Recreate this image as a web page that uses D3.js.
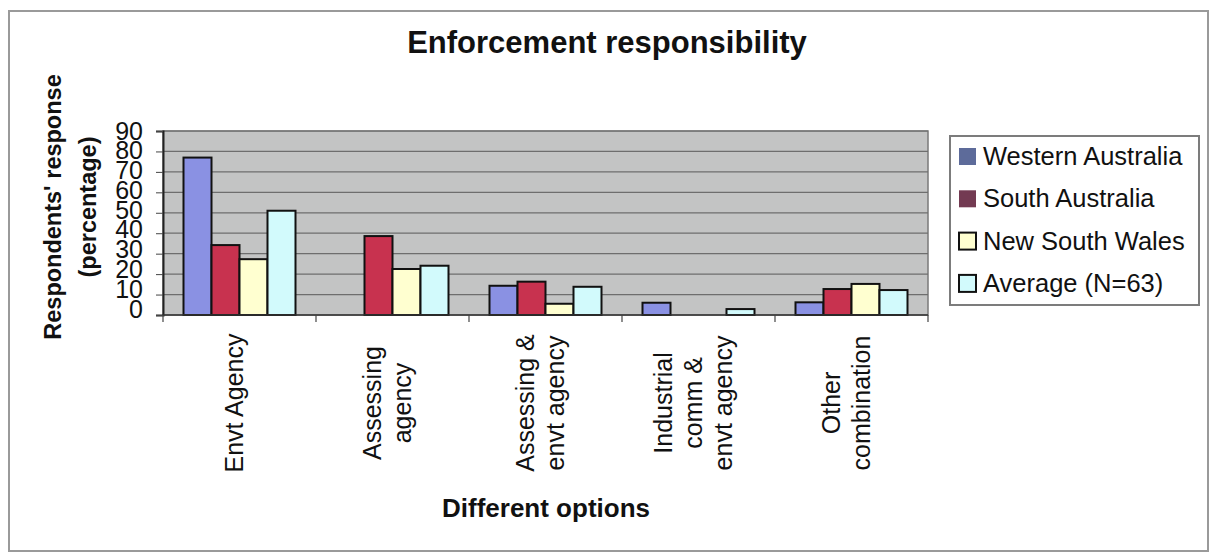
<!DOCTYPE html>
<html>
<head>
<meta charset="utf-8">
<script src="https://cdn.jsdelivr.net/npm/d3@7"></script>
<style>
  html, body { margin: 0; padding: 0; background: #ffffff; }
  svg { display: block; font-family: "Liberation Sans", Arial, sans-serif; }
</style>
</head>
<body>
<svg id="chart" width="1213" height="553"></svg>
<script>
// Options asked about, one group of bars per option
const categories = ["Envt Agency", "Assessing agency", "Assessing & envt agency", "Industrial comm & envt agency", "Other combination"];
// Line breaks used when writing the category names under the axis
const categoryLines = [
  ["Envt Agency"],
  ["Assessing", "agency"],
  ["Assessing &", "envt agency"],
  ["Industrial", "comm &", "envt agency"],
  ["Other", "combination"]
];
const seriesNames = ["Western Australia", "South Australia", "New South Wales", "Average (N=63)"];
// Percent of respondents per option
const westernAustralia = [77, 0, 14.3, 6, 6.2];
const southAustralia   = [34.2, 38.6, 16.3, 0, 12.7];
const newSouthWales    = [27.3, 22.5, 5.5, 0, 15.2];
const averageN63       = [51, 24.1, 13.8, 2.9, 12.2];
const yTicks = [0, 10, 20, 30, 40, 50, 60, 70, 80, 90];

const seriesValues = [westernAustralia, southAustralia, newSouthWales, averageN63];
const barFill = ["#8a91e3", "#c8324f", "#ffffd0", "#d2fafc"];
const legendFill = ["#5d6b9a", "#733a52", "#ffffd0", "#d2fafc"];
const legendStroke = ["none", "none", "#111", "#111"];

const svg = d3.select("#chart");

// Outer chart frame
svg.append("rect")
  .attr("x", 9).attr("y", 11).attr("width", 1199).attr("height", 540)
  .attr("fill", "#fff").attr("stroke", "#9a9a9a").attr("stroke-width", 2);

// Plot area bounds
const plot = { left: 163, right: 928, top: 131, bottom: 315 };

const y = d3.scaleLinear().domain([0, 90]).range([plot.bottom, plot.top]);
const x0 = d3.scaleBand().domain(categories).range([plot.left, plot.right]).padding(0);
const gap = x0.bandwidth() * 0.134;
const x1 = d3.scaleBand().domain(seriesNames).range([gap, x0.bandwidth() - gap]).padding(0);

// Grey plot background
svg.append("rect")
  .attr("x", plot.left).attr("y", plot.top)
  .attr("width", plot.right - plot.left).attr("height", plot.bottom - plot.top)
  .attr("fill", "#c3c4c4").attr("stroke", "#7a7a7a").attr("stroke-width", 1.5);

// Horizontal gridlines
svg.append("g")
  .selectAll("line")
  .data(yTicks.filter(t => t > 0))
  .join("line")
  .attr("x1", plot.left).attr("x2", plot.right)
  .attr("y1", d => y(d)).attr("y2", d => y(d))
  .attr("stroke", "#6e6e6e").attr("stroke-width", 1.2);

// Bars
const rows = categories.map((c, i) => ({ cat: c, vals: seriesValues.map((s, k) => ({ k, v: s[i] })) }));
svg.append("g")
  .selectAll("g")
  .data(rows)
  .join("g")
  .attr("transform", d => `translate(${x0(d.cat)},0)`)
  .selectAll("rect")
  .data(d => d.vals.filter(e => e.v > 0))
  .join("rect")
  .attr("x", d => x1(seriesNames[d.k]))
  .attr("width", x1.bandwidth())
  .attr("y", d => y(d.v))
  .attr("height", d => y(0) - y(d.v))
  .attr("fill", d => barFill[d.k])
  .attr("stroke", "#111").attr("stroke-width", 2);

// Y axis: line and tick marks
const yAxis = svg.append("g")
  .attr("transform", `translate(${plot.left},0)`)
  .call(d3.axisLeft(y).tickValues(yTicks).tickSize(7).tickFormat(""));
yAxis.select(".domain").attr("stroke", "#222").attr("stroke-width", 2);
yAxis.selectAll(".tick line").attr("stroke", "#444");

// Y tick labels, packed tightly as in the printed layout
const yLabel = y.copy().range([308, 130]);
const yLab = svg.append("g")
  .attr("transform", `translate(143,0)`)
  .call(d3.axisLeft(yLabel).tickValues(yTicks).tickSize(0).tickPadding(0));
yLab.select(".domain").remove();
yLab.selectAll("text")
  .attr("font-family", "Liberation Sans, Arial, sans-serif")
  .attr("font-size", 25).attr("fill", "#111").attr("dy", "0.36em");

// X axis: line and boundary ticks
const xBounds = categories.map(c => x0(c)).concat([plot.right]);
svg.append("line")
  .attr("x1", plot.left).attr("x2", plot.right)
  .attr("y1", plot.bottom).attr("y2", plot.bottom)
  .attr("stroke", "#333").attr("stroke-width", 1.5);
svg.append("g").selectAll("line")
  .data(xBounds)
  .join("line")
  .attr("x1", d => d).attr("x2", d => d)
  .attr("y1", plot.bottom).attr("y2", plot.bottom + 7)
  .attr("stroke", "#444").attr("stroke-width", 1.2);

// Rotated category labels, centred under each group
const lineGap = 30;
svg.append("g").selectAll("text")
  .data(categories)
  .join("text")
  .attr("transform", d => `translate(${x0(d) + x0.bandwidth() / 2 - 6},403) rotate(-90)`)
  .attr("text-anchor", "middle")
  .attr("font-size", 25).attr("fill", "#111")
  .each(function (d, i) {
    const lines = categoryLines[i];
    const n = lines.length;
    d3.select(this).selectAll("tspan")
      .data(lines)
      .join("tspan")
      .attr("x", 0)
      .attr("y", (l, j) => (j - (n - 1) / 2) * lineGap)
      .attr("dominant-baseline", "central")
      .text(l => l);
  });

// Title
svg.append("text")
  .attr("x", 607).attr("y", 53)
  .attr("text-anchor", "middle")
  .attr("font-size", 31).attr("font-weight", "bold").attr("fill", "#111")
  .text("Enforcement responsibility");

// Axis titles
svg.append("text")
  .attr("x", 546).attr("y", 517)
  .attr("text-anchor", "middle")
  .attr("font-size", 26).attr("font-weight", "bold").attr("fill", "#111")
  .text("Different options");

const yTitle = svg.append("text")
  .attr("transform", "translate(0,207) rotate(-90)")
  .attr("text-anchor", "middle")
  .attr("font-size", 23.5).attr("font-weight", "bold").attr("fill", "#111");
yTitle.append("tspan").attr("x", 0).attr("y", 53).attr("dominant-baseline", "central").text("Respondents' response");
yTitle.append("tspan").attr("x", 0).attr("y", 88).attr("dominant-baseline", "central").text("(percentage)");

// Legend
const legend = svg.append("g");
legend.append("rect")
  .attr("x", 950).attr("y", 136).attr("width", 249).attr("height", 169)
  .attr("fill", "#fff").attr("stroke", "#7c7c7c").attr("stroke-width", 2);
const items = legend.selectAll("g.item")
  .data(seriesNames)
  .join("g")
  .attr("class", "item")
  .attr("transform", (d, i) => `translate(958,${156 + i * 42.3})`);
items.append("rect")
  .attr("x", 1).attr("y", -8).attr("width", 17).attr("height", 17)
  .attr("fill", (d, i) => legendFill[i])
  .attr("stroke", (d, i) => legendStroke[i]).attr("stroke-width", 2);
items.append("text")
  .attr("x", 25).attr("y", 0)
  .attr("dominant-baseline", "central")
  .attr("font-size", 25.5).attr("fill", "#111")
  .text(d => d);
</script>
</body>
</html>
